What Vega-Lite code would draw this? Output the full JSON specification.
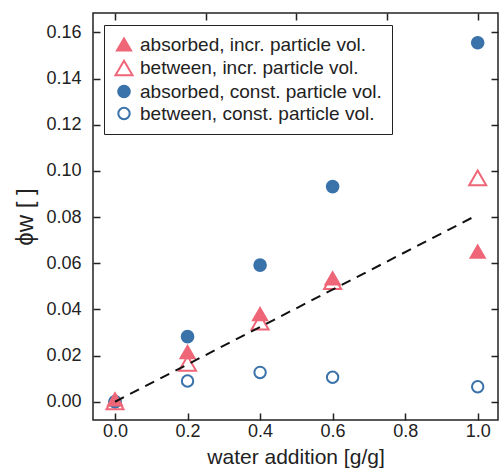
{
  "$schema": "https://vega.github.io/schema/vega-lite/v6.json",
  "width": 405,
  "height": 407,
  "autosize": "none",
  "padding": {"left": 93, "top": 13, "right": 2, "bottom": 48},
  "config": {
    "view": {"stroke": "#222222", "strokeWidth": 1.5},
    "font": "Liberation Sans",
    "axis": {"grid": false, "domain": false, "tickColor": "#222222", "tickWidth": 1.5, "tickSize": -7, "labelColor": "#222222", "titleColor": "#222222", "labelFont": "Liberation Sans", "titleFont": "Liberation Sans", "labelFontSize": 18, "titleFontSize": 21, "titleFontWeight": "normal"}
  },
  "layer": [
    {
      "data": {"values": [
        {"series": "absorbed, const. particle vol.", "x": 0.0, "y": 0.0},
        {"series": "absorbed, const. particle vol.", "x": 0.2, "y": 0.0282},
        {"series": "absorbed, const. particle vol.", "x": 0.4, "y": 0.0592},
        {"series": "absorbed, const. particle vol.", "x": 0.6, "y": 0.0932},
        {"series": "absorbed, const. particle vol.", "x": 1.0, "y": 0.1555},
        {"series": "between, const. particle vol.", "x": 0.0, "y": 0.0},
        {"series": "between, const. particle vol.", "x": 0.2, "y": 0.0090},
        {"series": "between, const. particle vol.", "x": 0.4, "y": 0.0127},
        {"series": "between, const. particle vol.", "x": 0.6, "y": 0.0106},
        {"series": "between, const. particle vol.", "x": 1.0, "y": 0.0065},
        {"series": "absorbed, incr. particle vol.", "x": 0.0, "y": 0.0010},
        {"series": "absorbed, incr. particle vol.", "x": 0.2, "y": 0.0215},
        {"series": "absorbed, incr. particle vol.", "x": 0.4, "y": 0.0380},
        {"series": "absorbed, incr. particle vol.", "x": 0.6, "y": 0.0535},
        {"series": "absorbed, incr. particle vol.", "x": 1.0, "y": 0.0650},
        {"series": "between, incr. particle vol.", "x": 0.0, "y": 0.0},
        {"series": "between, incr. particle vol.", "x": 0.2, "y": 0.0166},
        {"series": "between, incr. particle vol.", "x": 0.4, "y": 0.0345},
        {"series": "between, incr. particle vol.", "x": 0.6, "y": 0.0520},
        {"series": "between, incr. particle vol.", "x": 1.0, "y": 0.0970}
      ]},
      "mark": {"type": "point", "filled": false, "opacity": 1, "strokeWidth": 2},
      "encoding": {
        "x": {"field": "x", "type": "quantitative", "scale": {"domain": [-0.0607, 1.056], "nice": false, "zero": false},
              "axis": {"values": [0, 0.2, 0.4, 0.6, 0.8, 1.0], "format": ".1f", "title": "water addition [g/g]", "labelPadding": 9, "titlePadding": 6}},
        "y": {"field": "y", "type": "quantitative", "scale": {"domain": [-0.0079, 0.1684], "nice": false, "zero": false},
              "axis": {"values": [0, 0.02, 0.04, 0.06, 0.08, 0.1, 0.12, 0.14, 0.16], "format": ".2f", "title": "ϕw [ ]", "titleFontSize": 24, "labelPadding": 19, "titlePadding": 8}},
        "shape": {"field": "series", "type": "nominal",
          "scale": {"domain": ["absorbed, incr. particle vol.", "between, incr. particle vol.", "absorbed, const. particle vol.", "between, const. particle vol."], "range": ["triangle-up", "triangle-up", "circle", "circle"]},
          "legend": {"title": null, "orient": "none", "legendX": 11, "legendY": 12, "padding": 10, "strokeColor": "#222222", "fillColor": "white", "cornerRadius": 0, "labelFontSize": 19, "labelFont": "Liberation Sans", "labelColor": "#222222", "labelLimit": 400, "rowPadding": 1, "labelOffset": 6, "symbolStrokeWidth": 2}},
        "fill": {"field": "series", "type": "nominal",
          "scale": {"domain": ["absorbed, incr. particle vol.", "between, incr. particle vol.", "absorbed, const. particle vol.", "between, const. particle vol."], "range": ["#EE6677", "transparent", "#3A72AA", "transparent"]}},
        "stroke": {"field": "series", "type": "nominal",
          "scale": {"domain": ["absorbed, incr. particle vol.", "between, incr. particle vol.", "absorbed, const. particle vol.", "between, const. particle vol."], "range": ["#EE6677", "#EE6677", "#3A72AA", "#3A72AA"]}},
        "size": {"field": "series", "type": "nominal",
          "scale": {"type": "ordinal", "domain": ["absorbed, incr. particle vol.", "between, incr. particle vol.", "absorbed, const. particle vol.", "between, const. particle vol."], "range": [200, 290, 135, 130]}}
      }
    },
    {
      "data": {"values": [{"x": 0.0, "y": 0.0}, {"x": 1.0, "y": 0.081}]},
      "mark": {"type": "line", "color": "#111111", "strokeWidth": 2, "strokeDash": [10, 7]},
      "encoding": {
        "x": {"field": "x", "type": "quantitative", "axis": {"orient": "top", "values": [0, 0.25, 0.5, 0.75, 1.0], "labels": false, "title": null}},
        "y": {"field": "y", "type": "quantitative", "axis": {"orient": "right", "values": [0, 0.02, 0.04, 0.06, 0.08, 0.1, 0.12, 0.14, 0.16], "labels": false, "title": null}}
      }
    }
  ],
  "resolve": {"axis": {"x": "independent", "y": "independent"}}
}
